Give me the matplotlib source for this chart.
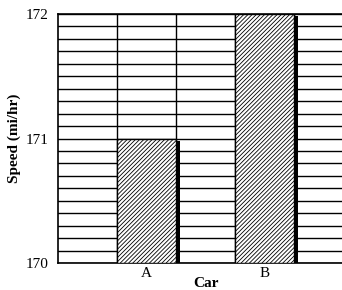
import numpy as np
import matplotlib
matplotlib.use("Agg")
import matplotlib.pyplot as plt
import matplotlib.patheffects as pe

plt.rcParams['font.family'] = ['Liberation Serif', 'DejaVu Serif']
plt.rcParams['hatch.linewidth'] = 0.6

cars   = ["A", "B"]
speeds = [171.0, 172.0]

fig = plt.figure(figsize=(3.42, 2.90), dpi=100)
# axes runs past the right edge of the picture, as in the reference
ax = fig.add_axes([58/342, 27/290, 295/342, 249/290])

x = np.arange(len(cars))
bars = ax.bar(x, np.array(speeds) - 170, bottom=170, width=0.5,
              color='white', edgecolor='black', hatch='////////',
              linewidth=1.0, zorder=3)
for b in bars:
    b.set_path_effects([pe.SimplePatchShadow(offset=(3, -1.5), shadow_rgbFace='black', alpha=1.0),
                        pe.Normal()])

ax.set_xlim(-0.75, 1.75)
ax.set_ylim(170, 172)
ax.set_xticks(x)
ax.set_xticklabels(cars, fontsize=11)
ax.set_yticks([170, 171, 172])
ax.set_yticklabels(["170", "171", "172"], fontsize=11)
ax.set_yticks(np.arange(170, 172.01, 0.1), minor=True)
ax.set_xticks([-0.25, 0.25, 0.75, 1.25], minor=True)
ax.tick_params(which='both', length=0)
ax.tick_params(axis='y', pad=7)
ax.tick_params(axis='x', pad=3)
ax.yaxis.grid(True, which='both', color='black', linewidth=1.0, zorder=1)
ax.xaxis.grid(True, which='minor', color='black', linewidth=1.0, zorder=1)
ax.set_axisbelow(True)
for s in ax.spines.values():
    s.set_linewidth(1.2)

ax.set_xlabel("Car", fontsize=11, fontweight='bold', labelpad=-2)
ax.set_ylabel("Speed (mi/hr)", fontsize=11, fontweight='bold', labelpad=3)

fig.savefig("out.png", dpi=100)
